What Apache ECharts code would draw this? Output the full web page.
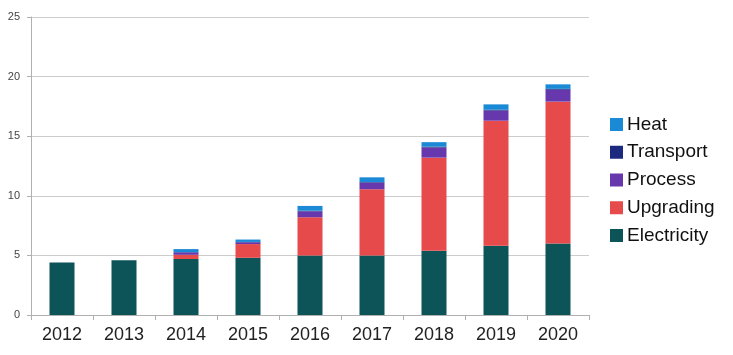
<!DOCTYPE html>
<html>
<head>
<meta charset="utf-8">
<script src="https://cdn.jsdelivr.net/npm/echarts@6/dist/echarts.min.js"></script>
<style>html,body{margin:0;padding:0;background:#fff;}#c{width:733px;height:355px;}</style>
</head>
<body>
<div id="c"></div>
<script>
var years = ['2012','2013','2014','2015','2016','2017','2018','2019','2020'];
var electricity = [4.4, 4.6, 4.7, 4.8, 5.0, 5.0, 5.4, 5.8, 6.0];
var upgrading   = [0, 0, 0.35, 1.15, 3.2, 5.55, 7.8, 10.5, 11.9];
var process     = [0, 0, 0.2, 0.15, 0.5, 0.55, 0.85, 0.85, 1.0];
var transport   = [0, 0, 0.03, 0.03, 0.05, 0.05, 0.07, 0.07, 0.07];
var heat        = [0, 0, 0.25, 0.2, 0.4, 0.4, 0.38, 0.45, 0.38];
var yTicks = [0, 5, 10, 15, 20, 25];

var colors = {
  Electricity: '#0c5458',
  Upgrading: '#e64a4a',
  Process: '#6637ad',
  Transport: '#1b2a7e',
  Heat: '#1b8ad6'
};
function s(name, data) {
  return {name: name, type: 'bar', stack: 'all', data: data, barWidth: 25,
    itemStyle: {color: colors[name]}};
}
var chart = echarts.init(document.getElementById('c'));
chart.setOption({
  animation: false,
  backgroundColor: '#fff',
  grid: {left: 31, right: 144, top: 17, bottom: 40, containLabel: false},
  legend: {
    data: ['Heat','Transport','Process','Upgrading','Electricity'],
    orient: 'vertical', left: 610, top: 115, padding: 0,
    itemWidth: 13, itemHeight: 13, itemGap: 8.75, icon: 'rect',
    textStyle: {fontFamily: 'Liberation Sans', fontSize: 19, color: '#111', padding: [0,0,0,-1]}
  },
  xAxis: {
    type: 'category', data: years,
    axisLine: {lineStyle: {color: '#b0b0b0'}},
    axisTick: {show: true, length: 5, lineStyle: {color: '#b0b0b0'}},
    axisLabel: {fontFamily: 'Liberation Sans', fontSize: 18, color: '#222', margin: 11}
  },
  yAxis: {
    type: 'value', min: yTicks[0], max: yTicks[yTicks.length-1], interval: 5,
    axisLine: {show: true, lineStyle: {color: '#b0b0b0'}},
    axisTick: {show: true, length: 4, lineStyle: {color: '#b0b0b0'}},
    splitLine: {lineStyle: {color: '#cccccc'}},
    axisLabel: {fontFamily: 'Liberation Sans', fontSize: 11, color: '#444', margin: 11}
  },
  series: [
    s('Electricity', electricity),
    s('Upgrading', upgrading),
    s('Process', process),
    s('Transport', transport),
    s('Heat', heat)
  ]
});
</script>
</body>
</html>
